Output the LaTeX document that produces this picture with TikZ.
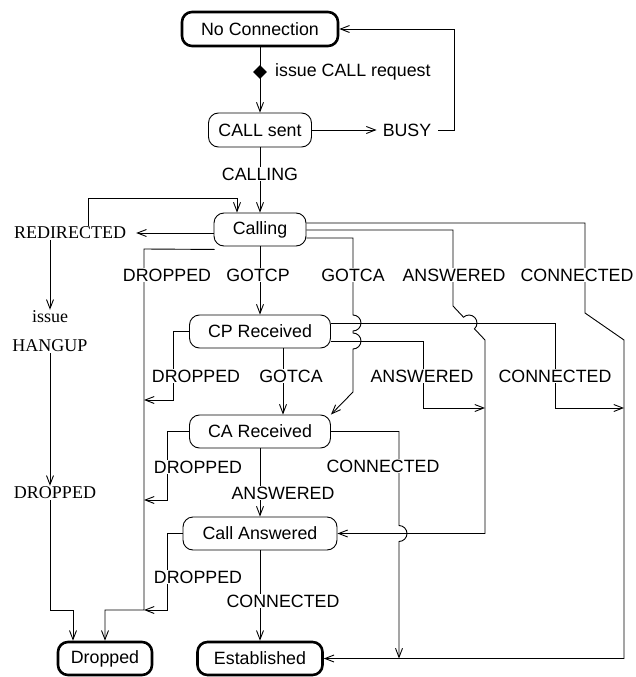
\documentclass[tikz,border=0pt]{standalone}
\usepackage{fontspec}
\setmainfont{Liberation Sans}
\newfontfamily\serifface{Liberation Serif}
\newcommand\mysans{\fontsize{17.8}{20}\selectfont}
\newcommand\myserif{\serifface\fontsize{18}{29}\selectfont}
\usetikzlibrary{arrows.meta,shapes.geometric}
\tikzset{
  state/.style={draw, rounded corners=10pt, line width=0.9pt, inner sep=0pt, font=\mysans},
  final/.style={state, line width=2.6pt},
  lbl/.style={fill=white, inner sep=1pt, font=\mysans},
  slbl/.style={fill=white, inner sep=1pt, font=\myserif, align=center},
  wire/.style={line width=0.9pt},
  conn/.style={wire, -{Straight Barb[length=9pt,width=7pt]}},
}
\begin{document}
\begin{tikzpicture}[x=1pt,y=-1pt]
\useasboundingbox (0,0) rectangle (635,677);
% states
\node[final, minimum width=156pt, minimum height=34pt] (noconn) at (260,29) {No Connection};
\node[state, minimum width=103pt, minimum height=34pt] (callsent) at (260,130) {CALL sent};
\node[state, minimum width=92pt, minimum height=33pt] (calling) at (260,229.5) {Calling};
\node[state, minimum width=141pt, minimum height=33pt] (cprec) at (260,331.5) {CP Received};
\node[state, minimum width=141pt, minimum height=33pt] (carec) at (260,431.5) {CA Received};
\node[state, minimum width=154pt, minimum height=33pt] (callans) at (260,533.5) {Call Answered};
\node[final, minimum width=94pt, minimum height=33pt] (dropped) at (105,658.5) {Dropped};
\node[final, minimum width=125pt, minimum height=33pt] (estab) at (260,658.5) {Established};
% plain text nodes
\node[font=\mysans, inner sep=1pt] (busy) at (407,130) {BUSY};
\node[font=\mysans, inner sep=0pt, anchor=west] (req) at (275,72) {issue CALL request};
\node[slbl] (redir) at (70,233) {REDIRECTED};
\node[slbl] (hangup) at (50,331.5) {issue\\HANGUP};
\node[slbl] (ldrop) at (55,493) {DROPPED};

% No Connection -> CALL sent
\draw[conn] (noconn.south) -- (callsent.north);
\node[diamond, fill=black, inner sep=0pt, minimum width=14pt, minimum height=14pt] (dia) at (260,72) {};
% BUSY loop
\draw[conn] (callsent.east) -- ([xshift=-5pt]busy.west);
\draw[conn] ([xshift=6pt]busy.east) -- (454,130) |- (noconn.east);
% CALL sent -> Calling
\draw[conn] (callsent.south) -- (calling.north);
% REDIRECTED
\draw[conn] (calling.west |- redir) -- ([xshift=9pt]redir.east);
\draw[conn] ([xshift=18pt]redir.north) |- (237,198) -- ([xshift=-23pt]calling.north);
\draw[conn] (redir.south -| hangup.north) -- (hangup.north);
\draw[conn] (hangup.south) -- (hangup.south |- ldrop.north);
\draw[conn] (hangup.south |- ldrop.south) -- (50,610) -| ([xshift=-32pt]dropped.north);
% DROPPED bus from Calling
\draw[conn] ([shift={(1,3)}]calling.south west) -- (144,249) -- (144,610) -- (105,610) -- (dropped.north);
% Calling -> CP Received
\draw[conn] (calling.south) -- (cprec.north);
% Calling right side
\draw[conn] (calling.east |- 0,223) -- (585,223) -- (585,313) -- (624,340) |- (estab.east);
\draw[conn] (calling.east |- 0,230) -- (453,230) -- (453,306) -- (463.5,317.2)
   arc[start angle=133.3, end angle=-46.7, radius=8pt] -- (485,340) |- (callans.east);
\draw[conn] (calling.east |- 0,238) -- (353,238) -- (353,315)
   arc[start angle=90, end angle=-90, radius=8pt] -- (353,333)
   arc[start angle=90, end angle=-90, radius=8pt] -- (353,392) -- (carec.north east);
% CP Received
\draw[conn] ([xshift=23pt]cprec.south) -- ([xshift=23pt]carec.north);
\draw[conn] (cprec.west) -- (173,331.5) -- (173,400) -- (144,400);
\draw[conn] (cprec.east |- 0,323) -- (555,323) -- (555,408) -- (624,408);
\draw[conn] (cprec.east |- 0,341) -- (423,341) -- (423,408) -- (485,408);
% CA Received
\draw[conn] (carec.west) -- (167,431.5) -- (167,500) -- (144,500);
\draw[conn] (carec.south) -- (callans.north);
\draw[conn] (carec.east) -- (399,431.5) -- (399,525.5)
   arc[start angle=90, end angle=-90, radius=8pt] -- (399,658.5);
% Call Answered
\draw[conn] (callans.west) -- (167,533.5) -- (167,610) -- (144,610);
\draw[conn] (callans.south) -- (estab.north);

% edge labels
\node[lbl] (lcalling) at (260,174) {CALLING};
\node[lbl] (d1) at (167,275) {DROPPED};
\node[lbl] (g1) at (258,275) {GOTCP};
\node[lbl] (g2) at (353,275) {GOTCA};
\node[lbl] (a1) at (454,275) {ANSWERED};
\node[lbl] (c1) at (577,275) {CONNECTED};
\node[lbl] (d2) at (196,376) {DROPPED};
\node[lbl] (g3) at (291,376) {GOTCA};
\node[lbl] (a2) at (422,376) {ANSWERED};
\node[lbl] (c2) at (555,376) {CONNECTED};
\node[lbl] (d3) at (198,467) {DROPPED};
\node[lbl] (c3) at (383,466) {CONNECTED};
\node[lbl] (a3) at (283,493) {ANSWERED};
\node[lbl] (d4) at (198,577) {DROPPED};
\node[lbl] (c4) at (283,601) {CONNECTED};
\end{tikzpicture}
\end{document}
